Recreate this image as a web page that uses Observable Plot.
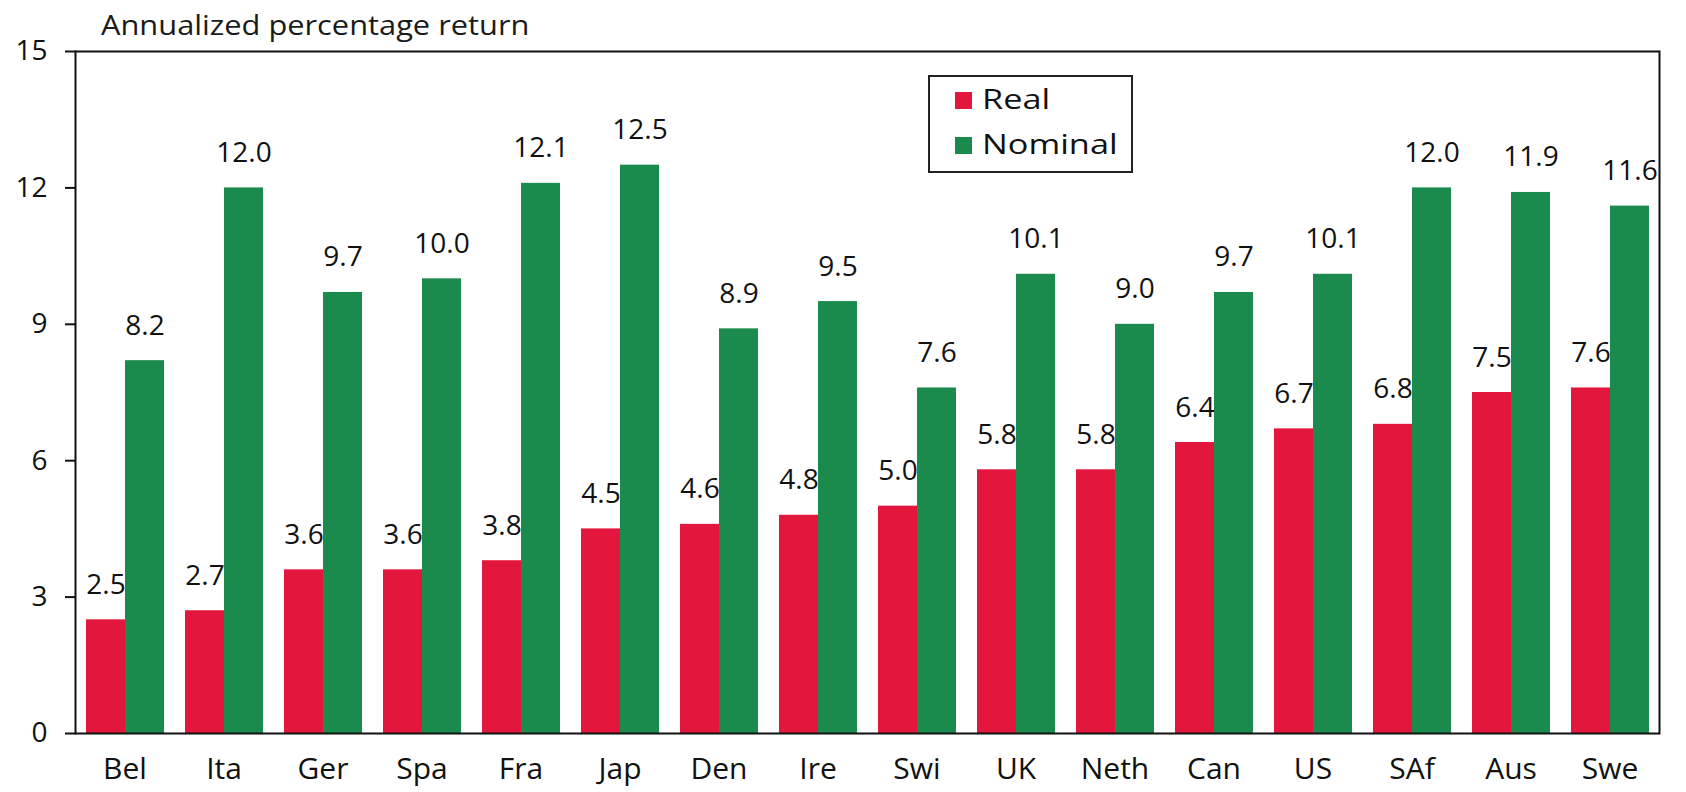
<!DOCTYPE html>
<html>
<head>
<meta charset="utf-8">
<script src="https://cdn.jsdelivr.net/npm/d3@7"></script>
<script src="https://cdn.jsdelivr.net/npm/@observablehq/plot@0.6"></script>
<style>
  body { margin: 0; background: #fff; font-family: "Open Sans", sans-serif; }
  #wrap { position: relative; width: 1686px; height: 792px; overflow: hidden; }
  #title { position: absolute; left: 101px; top: 5px; font-size: 28px; color: #1a1a1a; white-space: nowrap;
           transform: scaleX(1.1); transform-origin: left top; }
  #legend { position: absolute; left: 928px; top: 75px; width: 205px; height: 98px; border: 2px solid #222;
            box-sizing: border-box; background: #fff; font-size: 27px; color: #111; }
  .sw { position: absolute; left: 25px; width: 17px; height: 17px; }
  .lab { position: absolute; left: 52px; line-height: 1; white-space: nowrap;
         transform: scaleX(1.27); transform-origin: left top; }
</style>
</head>
<body>
<div id="wrap">
  <div id="chart"></div>
  <div id="title">Annualized percentage return</div>
  <div id="legend"></div>
</div>
<script>
const countries = ["Bel","Ita","Ger","Spa","Fra","Jap","Den","Ire","Swi","UK","Neth","Can","US","SAf","Aus","Swe"];
const real    = [2.5, 2.7, 3.6, 3.6, 3.8, 4.5, 4.6, 4.8, 5.0, 5.8, 5.8, 6.4, 6.7, 6.8, 7.5, 7.6];
const nominal = [8.2, 12.0, 9.7, 10.0, 12.1, 12.5, 8.9, 9.5, 7.6, 10.1, 9.0, 9.7, 10.1, 12.0, 11.9, 11.6];
const seriesNames = ["Real", "Nominal"];
const seriesColors = ["#e3173d", "#1b8a4d"];
const yTicks = [0, 3, 6, 9, 12, 15];

const data = countries.flatMap((c, i) => [
  {country: c, series: "Real", value: real[i]},
  {country: c, series: "Nominal", value: nominal[i]}
]);

const chart = Plot.plot({
  width: 1686,
  height: 792,
  marginLeft: 67,
  marginTop: 51,
  marginRight: 20,
  marginBottom: 59,
  style: {fontFamily: "Open Sans", background: "transparent", color: "#111"},
  fx: {domain: countries, padding: 0, label: null},
  x: {domain: seriesNames, paddingInner: 0, paddingOuter: 0.25, axis: null},
  y: {domain: [0, 15], label: null},
  color: {domain: seriesNames, range: seriesColors},
  marks: [
    Plot.barY(data, {fx: "country", x: "series", y: "value", fill: "series", inset: 0}),
    Plot.text(data, {fx: "country", x: "series", y: "value", text: d => d.value.toFixed(1),
                     lineAnchor: "bottom", dy: -26, fontSize: 28, fill: "#111"}),
    Plot.ruleY([0, 15], {stroke: "#111", strokeWidth: 2}),
    Plot.frame({anchor: "left", facetAnchor: "left", stroke: "#111", strokeWidth: 2}),
    Plot.frame({anchor: "right", facetAnchor: "right", stroke: "#111", strokeWidth: 2}),
    Plot.axisY({ticks: yTicks, tickSize: 10, tickPadding: 18, fontSize: 28, label: null, strokeWidth: 2}),
    Plot.axisFx({anchor: "bottom", tickSize: 0, tickPadding: 24, fontSize: 30, label: null})
  ]
});
document.getElementById("chart").appendChild(chart);

const legend = document.getElementById("legend");
seriesNames.forEach((name, i) => {
  const sw = document.createElement("div");
  sw.className = "sw";
  sw.style.top = (15 + i * 45) + "px";
  sw.style.background = seriesColors[i];
  legend.appendChild(sw);
  const lab = document.createElement("div");
  lab.className = "lab";
  lab.style.top = (8 + i * 45) + "px";
  lab.textContent = name;
  legend.appendChild(lab);
});
</script>
</body>
</html>
